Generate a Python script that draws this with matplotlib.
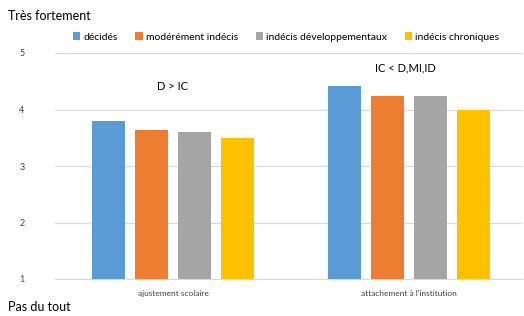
import numpy as np
import matplotlib.pyplot as plt

plt.rcParams['font.family'] = ['Lato', 'DejaVu Sans']

categories = ["ajustement scolaire", "attachement à l'institution"]
groups = ["décidés", "modérément indécis", "indécis développementaux", "indécis chroniques"]
colors = ["#5b9bd5", "#ed7d31", "#a5a5a5", "#ffc000"]
values = [
    [3.80, 4.42],  # décidés
    [3.64, 4.24],  # modérément indécis
    [3.60, 4.24],  # indécis développementaux
    [3.50, 4.00],  # indécis chroniques
]
notes = ["D > IC", "IC < D,MI,ID"]

fig = plt.figure(figsize=(5.24, 3.16), dpi=100)
ax = fig.add_axes([55/524, 1-279/316, 467/524, 226/316])

x = np.arange(len(categories))
w = 0.141
step = 0.182
for i, (g, c) in enumerate(zip(groups, colors)):
    ax.bar(x + (i - 1.5) * step, np.array(values[i]) - 1, bottom=1, width=w,
           color=c, label=g, zorder=3)

ax.set_ylim(1, 5)
ax.set_xlim(-0.5, 1.479)
ax.set_yticks([1, 2, 3, 4, 5])
ax.set_xticks(x)
ax.set_xticklabels(categories, fontsize=6)
ax.tick_params(axis='y', labelsize=6.5, length=0, pad=22, colors='#404040')
ax.tick_params(axis='x', length=0, pad=8, colors='#404040')
ax.grid(axis='y', color='#d9d9d9', linewidth=0.9, zorder=0)
for s in ['top', 'right', 'left']:
    ax.spines[s].set_visible(False)
ax.spines['bottom'].set_color('#d9d9d9')

# annotations above groups
ax.text(x[0], 4.4, notes[0], ha='center', va='center', fontsize=8)
ax.text(x[1] - 0.015, 4.74, notes[1], ha='center', va='center', fontsize=8)

fig.text(8/524, 1-16/316, "Très fortement", fontsize=9, va='center', ha='left')
fig.text(8/524, 1-307/316, "Pas du tout", fontsize=9, va='center', ha='left')

fig.legend(loc='center', bbox_to_anchor=(286/524, 1-37/316), ncol=4, frameon=False,
           fontsize=7.5, handlelength=0.7, handleheight=0.7, handletextpad=0.3,
           columnspacing=1.7)

fig.savefig("out.png", dpi=100)
